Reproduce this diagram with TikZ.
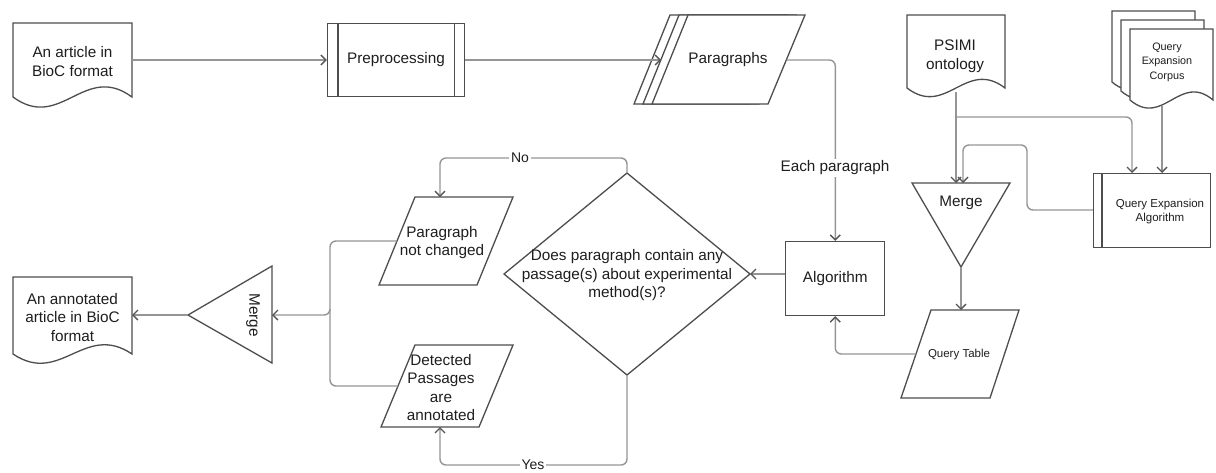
\documentclass[tikz,border=0pt]{standalone}
\usepackage{fontspec}
\setmainfont{Liberation Sans}
\usetikzlibrary{arrows.meta}
\definecolor{edge}{HTML}{4D4D4D}
\definecolor{conn}{HTML}{959595}
\definecolor{tipc}{HTML}{555555}
\definecolor{txt}{HTML}{1E1E1E}
\begin{document}
\begin{tikzpicture}[x=1pt,y=-1pt,
  shp/.style={draw=edge, line width=1.3pt, fill=white, line join=miter},
  lbl/.style={text=txt, align=center, font=\fontsize{15.3}{18.5}\selectfont, inner sep=0},
  sml/.style={text=txt, align=center, font=\fontsize{11.5}{14}\selectfont, inner sep=0},
  xsm/.style={text=txt, align=center, font=\fontsize{10.8}{14.5}\selectfont, inner sep=0},
  conn/.style={draw=conn, line width=1.4pt, rounded corners=6pt},
  arr/.style={conn, -{Straight Barb[length=5pt,width=10pt,line width=1.4pt,color=tipc]}},
  onlbl/.style={text=txt, fill=white, inner sep=2pt, font=\fontsize{14}{16}\selectfont},
]
\useasboundingbox (0,0) rectangle (1216,472);

% ---- An article in BioC format (document)
\draw[shp] (13,23) -- (132,23) -- (132,97) .. controls (84.4,62) and (60.6,132) .. (13,97) -- cycle;
\node[lbl] (art) at (72.5,61.5) {An article in\\BioC format};
\coordinate (artR) at (132,60);

% ---- Preprocessing
\node[shp, minimum width=137, minimum height=73, inner sep=0] (pre) at (396,60) {};
\draw[shp] ([xshift=11pt]pre.north west) -- ([xshift=11pt]pre.south west);
\draw[shp] ([xshift=-11pt]pre.north east) -- ([xshift=-11pt]pre.south east);
\node[lbl] at (pre) {Preprocessing};

% ---- Paragraphs (stacked data)
\foreach \s in {-18,-9,0}{
  \draw[shp] ({688+\s},15) -- ({805+\s},15) -- ({768+\s},104) -- ({652+\s},104) -- cycle;
}
\node[lbl] (par) at (728,60) {Paragraphs};
\coordinate (parL) at (661,60);
\coordinate (parR) at (786.5,60);

% ---- Algorithm
\node[shp, minimum width=99, minimum height=74, inner sep=0] (alg) at (835.3,278.5) {};
\node[lbl] at (alg) {Algorithm};

% ---- Decision diamond
\coordinate (decT) at (627,173);
\coordinate (decR) at (750,274);
\coordinate (decB) at (627,375);
\coordinate (decL) at (504,274);
\draw[shp] (decT) -- (decR) -- (decB) -- (decL) -- cycle;
\node[lbl] (dec) at (627,275.5) {Does paragraph contain any\\passage(s) about experimental\\method(s)?};

% ---- Paragraph not changed
\draw[shp] (415,197) -- (513,197) -- (477,285) -- (379,285) -- cycle;
\node[lbl] (nc) at (442,242.5) {Paragraph\\not changed};
\coordinate (ncT) at (440,197);
\coordinate (ncL) at (397,241);

% ---- Detected passages are annotated
\draw[shp] (415,345) -- (513,345) -- (479,427) -- (381,427) -- cycle;
\node[lbl] (det) at (441,387.5) {Detected\\Passages\\are\\annotated};
\coordinate (detB) at (440,427);
\coordinate (detL) at (398,386);

% ---- Left merge
\coordinate (mlA) at (188,315);
\coordinate (mlR) at (272,315);
\draw[shp] (mlA) -- (272,266) -- (272,363) -- cycle;
\node[lbl, rotate=-90] (mergeL) at (253,315) {Merge};

% ---- Annotated article (document)
\draw[shp] (13,277) -- (132,277) -- (132,354) .. controls (84.4,322) and (60.6,386) .. (13,354) -- cycle;
\node[lbl] (out) at (72.5,317.5) {An annotated\\article in BioC\\format};
\coordinate (outR) at (132,315);

% ---- PSIMI ontology (document)
\draw[shp] (907,15) -- (1005,15) -- (1005,88) .. controls (965.8,58) and (946.2,118) .. (907,88) -- cycle;
\node[lbl] (psimi) at (955,56) {PSIMI\\ontology};
\coordinate (psB) at (956,92);

% ---- Query Expansion Corpus (multi-document)
\foreach \s in {-18,-9,0}{
  \draw[shp] ({1130+\s},{29+\s}) -- ({1213+\s},{29+\s}) -- ({1213+\s},{100+\s})
     .. controls ({1179.8+\s},{72+\s}) and ({1163.2+\s},{128+\s}) .. ({1130+\s},{100+\s}) -- cycle;
}
\node[xsm] (corp) at (1167,62) {Query\\Expansion\\Corpus};
\coordinate (corpB) at (1162,106);

% ---- Query Expansion Algorithm
\node[shp, minimum width=117, minimum height=74, inner sep=0] (qea) at (1152,210.5) {};
\draw[shp] ([xshift=9pt]qea.north west) -- ([xshift=9pt]qea.south west);
\node[sml] at (1160,212) {Query Expansion\\Algorithm};

% ---- Center merge
\coordinate (mcT) at (961,183);
\coordinate (mcA) at (961,267);
\draw[shp] (912,183) -- (1010,183) -- (mcA) -- cycle;
\node[lbl] (mergeC) at (961,203) {Merge};

% ---- Query Table
\draw[shp] (931,310) -- (1019,310) -- (990,398) -- (901,398) -- cycle;
\node[sml] (qt) at (959,355) {Query Table};
\coordinate (qtT) at (961,310);
\coordinate (qtL) at (916,354);

% ---- Connectors
\draw[arr] (artR) -- (pre.west);
\draw[arr] (pre.east) -- (parL |- pre.east);
\draw[arr] (parR) -- (835.3,60) -- (alg.north);
\node[lbl, fill=white, inner sep=1.5pt] at (835,168) {Each paragraph};
\draw[arr] (alg.west |- decR) -- (decR);
\draw[arr] (decT) -- (627,158) -- (440,158) -- (ncT);
\node[onlbl] at (520,158) {No};
\draw[arr] (decB) -- (627,465) -- (440,465) -- (detB);
\node[onlbl] at (533,465) {Yes};
\draw[arr] (ncL) -- (330,241) -- (330,315) -- (mlR);
\draw[conn] (detL) -- (330,386) -- (330,309);
\draw[arr] (mlA) -- (outR);
\draw[arr] (psB) -- (956,183);
\draw[arr] (956,117) -- (1132,117) -- (1132,173);
\draw[arr] (corpB) -- (1162,173);
\draw[arr] (qea.west |- 0,210) -- (1027,210) -- (1027,145) -- (963,145) -- (963,183);
\draw[arr] (mcA) -- (qtT);
\draw[arr] (qtL) -- (835.3,354) -- (alg.south);
\end{tikzpicture}
\end{document}
